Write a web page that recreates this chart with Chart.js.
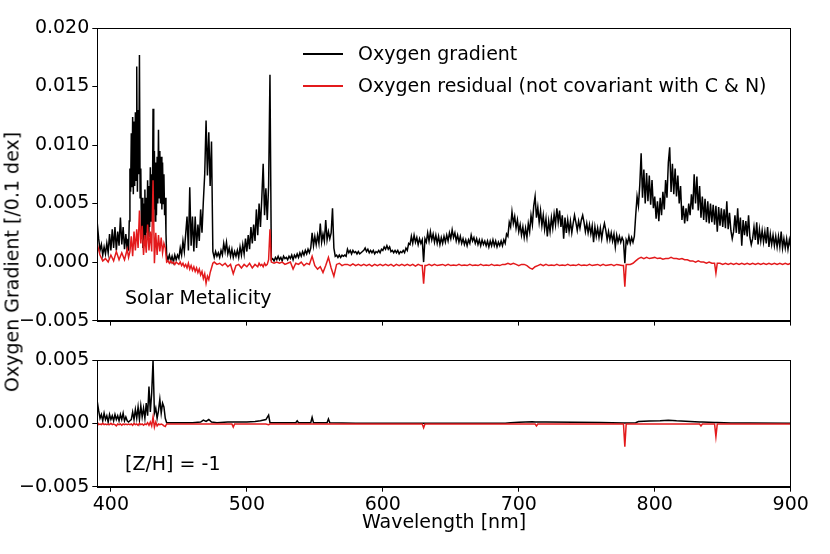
<!DOCTYPE html>
<html><head><meta charset="utf-8">
<script src="https://cdn.jsdelivr.net/npm/chart.js@4.4.1/dist/chart.umd.min.js"></script>
<style>
html,body{margin:0;padding:0;background:#fff;}
#wrap{position:relative;width:830px;height:554px;font-family:"DejaVu Sans",sans-serif;color:#000;overflow:hidden;}
canvas{position:absolute;left:0;}
.t{position:absolute;font-size:19px;line-height:19px;white-space:nowrap;}
.ln{position:absolute;height:2px;}
</style></head><body>
<div id="wrap">
<canvas id="cTop" width="830" height="335" style="top:0px"></canvas>
<canvas id="cBot" width="830" height="214" style="top:340px"></canvas>
<div class="ln" style="left:303px;top:53px;width:40px;background:#000"></div>
<div class="t" style="left:358px;top:44px">Oxygen gradient</div>
<div class="ln" style="left:303px;top:85px;width:40px;background:#e31a1c"></div>
<div class="t" style="left:358px;top:76px">Oxygen residual (not covariant with C &amp; N)</div>
<div class="t" style="left:125px;top:288px">Solar Metalicity</div>
<div class="t" style="left:125px;top:454px">[Z/H] = -1</div>
<div class="t" style="left:444px;top:512px;transform:translateX(-50%)">Wavelength [nm]</div>
<div class="t" style="left:12px;top:262px;transform:translate(-50%,-50%) rotate(-90deg)">Oxygen Gradient [/0.1 dex]</div>
</div>
<script>
// ---- Top panel (solar metallicity): Oxygen gradient ----
const gradWaveTop = [390,391,392,393,394,395,396,397,398,399,400,401,402,403,404,405,406,407,408,409,410,411,412,
 412.5,413,413.5,414,414.5,415,415.5,416,416.5,417,417.5,418,418.5,419,419.5,420,420.5,421,421.5,422,422.5,423,423.5,424,424.5,425,425.5,
 426,426.5,427,427.5,428,428.5,429,429.5,430,430.5,431,431.5,432,432.5,433,433.5,434,434.5,435,435.5,436,436.5,437,437.5,438,438.5,439,439.5,440,440.5,441,
 442,443,444,445,446,447,448,449,
 450,451,452,453,454,455,456,457,458,459,
 460,461,462,463,464,465,466,467,468,469,
 470,471,472,473,474,475,476,477,478,479,
 480,481,482,483,484,485,486,487,488,489,
 490,491,492,493,494,495,496,497,498,499,
 500,501,502,503,504,505,506,507,508,509,
 510,511,512,513,514,515,516,517,518,519,
 520,521,522,523,524,525,526,527,528,529,
 530,531,532,533,534,535,536,537,538,539,
 540,541,542,543,544,545,546,547,548,549,
 550,551,552,553,554,555,556,557,558,559,
 560,561,562,563,564,565,566,567,568,569,
 570,571,572,573,574,575,576,577,578,579,
 580,581,582,583,584,585,586,587,588,589,
 590,591,592,593,594,595,596,597,598,599,
 600,601,602,603,604,605,606,607,608,609,
 610,611,612,613,614,615,616,617,618,619,
 620,621,622,623,624,625,626,627,628,629,
 630,631,632,633,634,635,636,637,638,639,
 640,641,642,643,644,645,646,647,648,649,
 650,651,652,653,654,655,656,657,658,659,
 660,661,662,663,664,665,666,667,668,669,
 670,671,672,673,674,675,676,677,678,679,
 680,681,682,683,684,685,686,687,688,689,
 690,691,692,693,694,695,696,697,698,699,
 700,701,702,703,704,705,706,707,708,709,
 710,711,712,713,714,715,716,717,718,719,
 720,721,722,723,724,725,726,727,728,729,
 730,731,732,733,734,735,736,737,738,739,
 740,741,742,743,744,745,746,747,748,749,
 750,751,752,753,754,755,756,757,758,759,
 760,761,762,763,764,765,766,767,768,769,
 770,771,772,773,774,775,776,777,778,779,
 780,781,782,783,784,785,786,787,788,789,
 790,791,792,793,794,795,796,797,798,799,
 800,801,802,803,804,805,806,807,808,809,
 810,811,812,813,814,815,816,817,818,819,
 820,821,822,823,824,825,826,827,828,829,
 830,831,832,833,834,835,836,837,838,839,
 840,841,842,843,844,845,846,847,848,849,
 850,851,852,853,854,855,856,857,858,859,
 860,861,862,863,864,865,866,867,868,869,
 870,871,872,873,874,875,876,877,878,879,
 880,881,882,883,884,885,886,887,888,889,
 890,891,892,893,894,895,896,897,898,899,
 900];

const gradTop = [3.3e-3,2.0e-3,1.0e-3,1.5e-3,0.6e-3,1.3e-3,0.7e-3,1.6e-3,0.8e-3,2.4e-3,1.0e-3,2.8e-3,1.2e-3,3.0e-3,1.0e-3,2.6e-3,1.4e-3,3.8e-3,1.5e-3,3.0e-3,1.1e-3,2.4e-3,1.0e-3,
 2.0e-3,1.0e-3,3.5e-3,8.0e-3,6.0e-3,11.0e-3,6.4e-3,12.4e-3,5.8e-3,12.0e-3,6.5e-3,12.8e-3,7.0e-3,16.7e-3,6.0e-3,13.0e-3,7.5e-3,17.7e-3,5.5e-3,8.0e-3,2.0e-3,5.5e-3,1.2e-3,5.0e-3,1.9e-3,6.2e-3,1.5e-3,
 5.5e-3,2.5e-3,7.0e-3,2.2e-3,6.5e-3,3.0e-3,8.1e-3,3.5e-3,7.5e-3,4.0e-3,13.1e-3,4.5e-3,9.5e-3,3.5e-3,8.5e-3,4.0e-3,9.0e-3,5.0e-3,11.3e-3,5.5e-3,9.5e-3,5.0e-3,9.0e-3,4.5e-3,8.5e-3,5.0e-3,7.5e-3,4.0e-3,5.5e-3,2.5e-3,0.6e-3,
 0.2e-3,0.6e-3,0.1e-3,0.5e-3,0,0.6e-3,0.2e-3,0.6e-3,
 0.3e-3,1.2e-3,0.6e-3,1.8e-3,0.9e-3,2.4e-3,3.9e-3,1.0e-3,6.4e-3,1.4e-3,
 3.9e-3,0.9e-3,3.9e-3,1.2e-3,3.2e-3,1.8e-3,4.5e-3,2.5e-3,5.2e-3,7.5e-3,
 12.1e-3,7.4e-3,11.1e-3,6.5e-3,10.3e-3,0.9e-3,0.4e-3,0.9e-3,0.5e-3,0.8e-3,
 0.4e-3,1.0e-3,0.6e-3,1.6e-3,0.9e-3,1.7e-3,0.7e-3,1.2e-3,0.5e-3,1.1e-3,
 0.4e-3,0.9e-3,0.5e-3,1.0e-3,0.4e-3,1.3e-3,0.6e-3,1.5e-3,0.7e-3,2.0e-3,
 0.9e-3,2.3e-3,1.1e-3,3.0e-3,1.6e-3,3.2e-3,1.8e-3,4.5e-3,2.3e-3,5.0e-3,
 3.0e-3,5.5e-3,8.4e-3,4.0e-3,6.3e-3,3.6e-3,6.5e-3,16.0e-3,0.2e-3,0.3e-3,
 0.1e-3,0.4e-3,0.2e-3,0.5e-3,0.2e-3,0.4e-3,0.1e-3,0.5e-3,0.3e-3,0.4e-3,
 0.2e-3,0.5e-3,0.3e-3,0.6e-3,0.2e-3,0.6e-3,0.4e-3,0.7e-3,0.4e-3,0.8e-3,
 0.5e-3,0.9e-3,0.6e-3,1.0e-3,0.7e-3,1.1e-3,0.8e-3,1.2e-3,2.5e-3,1.4e-3,
 2.2e-3,1.5e-3,2.3e-3,1.6e-3,3.3e-3,1.7e-3,2.4e-3,1.8e-3,3.6e-3,1.9e-3,
 2.6e-3,2.0e-3,2.5e-3,4.6e-3,1.2e-3,0.5e-3,0.6e-3,0.4e-3,0.6e-3,0.4e-3,
 0.6e-3,0.5e-3,0.6e-3,0.5e-3,1.1e-3,0.8e-3,1.0e-3,0.7e-3,1.0e-3,0.8e-3,
 0.9e-3,0.7e-3,0.9e-3,0.7e-3,0.8e-3,0.9e-3,1.0e-3,1.2e-3,0.9e-3,1.1e-3,
 0.8e-3,1.0e-3,0.8e-3,1.0e-3,0.7e-3,0.9e-3,0.8e-3,1.0e-3,0.8e-3,1.1e-3,
 1.0e-3,1.3e-3,1.1e-3,1.4e-3,1.1e-3,1.3e-3,0.9e-3,1.0e-3,0.8e-3,1.0e-3,
 0.8e-3,1.0e-3,0.7e-3,0.9e-3,0.8e-3,1.0e-3,0.8e-3,1.2e-3,1.0e-3,1.6e-3,
 1.5e-3,2.2e-3,1.6e-3,2.3e-3,1.7e-3,2.1e-3,1.5e-3,2.0e-3,1.6e-3,1.9e-3,
 0,2.0e-3,1.7e-3,2.5e-3,1.8e-3,2.6e-3,1.9e-3,2.4e-3,1.7e-3,2.3e-3,
 1.6e-3,2.2e-3,1.5e-3,2.1e-3,1.6e-3,2.2e-3,1.7e-3,2.3e-3,1.8e-3,2.5e-3,
 2.0e-3,2.75e-3,2.1e-3,2.5e-3,1.8e-3,2.3e-3,1.7e-3,2.2e-3,1.6e-3,2.0e-3,
 1.5e-3,1.9e-3,1.4e-3,1.9e-3,1.6e-3,2.3e-3,1.8e-3,2.1e-3,1.6e-3,2.0e-3,
 1.5e-3,1.9e-3,1.4e-3,1.9e-3,1.5e-3,1.8e-3,1.4e-3,1.8e-3,1.3e-3,1.8e-3,
 1.4e-3,1.9e-3,1.4e-3,1.8e-3,1.3e-3,1.7e-3,1.4e-3,1.8e-3,1.4e-3,1.9e-3,
 1.6e-3,2.4e-3,2.2e-3,3.4e-3,3.0e-3,4.3e-3,3.3e-3,3.9e-3,2.9e-3,3.6e-3,
 2.6e-3,3.2e-3,2.3e-3,3.0e-3,2.1e-3,2.9e-3,2.1e-3,3.3e-3,2.6e-3,4.0e-3,
 3.2e-3,4.8e-3,5.6e-3,3.8e-3,4.7e-3,3.4e-3,4.4e-3,3.1e-3,4.0e-3,2.8e-3,
 3.7e-3,2.2e-3,3.5e-3,2.6e-3,3.8e-3,2.9e-3,4.1e-3,3.2e-3,4.6e-3,3.4e-3,
 4.4e-3,3.0e-3,4.0e-3,2.0e-3,3.8e-3,2.5e-3,3.6e-3,2.6e-3,3.5e-3,2.5e-3,
 3.3e-3,4.0e-3,3.4e-3,2.7e-3,3.5e-3,2.9e-3,3.6e-3,4.0e-3,3.4e-3,2.6e-3,
 3.3e-3,2.5e-3,3.2e-3,2.4e-3,3.1e-3,1.7e-3,3.0e-3,2.2e-3,2.9e-3,2.1e-3,
 2.9e-3,2.0e-3,2.8e-3,3.3e-3,2.7e-3,1.9e-3,2.6e-3,1.9e-3,2.5e-3,1.8e-3,
 2.4e-3,1.3e-3,2.3e-3,1.7e-3,2.2e-3,1.7e-3,2.1e-3,1.8e-3,-0.1e-3,1.9e-3,
 1.6e-3,2.2e-3,1.6e-3,2.1e-3,1.7e-3,2.2e-3,4.0e-3,5.6e-3,4.8e-3,6.6e-3,
 9.3e-3,5.5e-3,7.9e-3,5.0e-3,7.6e-3,5.2e-3,7.4e-3,4.9e-3,7.0e-3,4.6e-3,
 5.6e-3,3.7e-3,5.2e-3,3.5e-3,5.5e-3,4.0e-3,6.0e-3,4.5e-3,7.0e-3,5.5e-3,
 8.5e-3,9.8e-3,6.0e-3,8.4e-3,5.8e-3,8.0e-3,5.6e-3,7.4e-3,5.0e-3,6.5e-3,
 3.6e-3,4.8e-3,3.3e-3,4.6e-3,3.5e-3,5.0e-3,4.0e-3,5.8e-3,4.5e-3,7.5e-3,
 5.0e-3,7.3e-3,4.4e-3,6.5e-3,3.8e-3,5.6e-3,3.6e-3,5.4e-3,3.4e-3,5.2e-3,
 3.3e-3,5.0e-3,3.4e-3,4.9e-3,3.2e-3,4.8e-3,2.6e-3,4.7e-3,3.1e-3,4.6e-3,
 3.0e-3,4.5e-3,2.9e-3,5.2e-3,2.8e-3,4.2e-3,2.7e-3,2.0e-3,2.6e-3,4.0e-3,
 2.5e-3,4.6e-3,2.4e-3,3.8e-3,1.4e-3,3.6e-3,2.3e-3,3.5e-3,2.2e-3,4.0e-3,
 2.1e-3,1.5e-3,2.0e-3,3.0e-3,1.9e-3,3.4e-3,1.5e-3,2.8e-3,1.8e-3,2.7e-3,
 1.7e-3,2.6e-3,1.6e-3,3.0e-3,1.3e-3,2.4e-3,1.5e-3,2.3e-3,1.4e-3,2.2e-3,
 1.3e-3,2.2e-3,1.3e-3,2.6e-3,1.2e-3,2.0e-3,1.2e-3,2.0e-3,1.1e-3,1.9e-3,
 1.3e-3];

// ---- Top panel: Oxygen residual ----
const residWaveTop = [390,392,394,396,398,400,402,404,406,408,410,412,
 413,414,415,416,417,418,419,420,421,422,423,424,425,426,427,428,429,430,431,432,
 433,434,435,436,437,438,439,440,441,442,443,444,445,446,447,448,449,450,451,452,
 453,454,455,456,457,458,459,460,461,462,463,464,465,466,467,468,469,470,471,472,
 473,474,475,476,
 478,480,482,484,486,488,490,492,494,496,498,500,502,504,506,508,
 509,510,511,512,513,514,515,516,517,518,
 520,522,524,526,528,530,532,534,536,538,540,542,544,546,548,550,552,554,556,558,
 560,562,564,566,568,570,572,574,576,578,580,582,584,586,588,590,592,594,596,598,
 600,602,604,606,608,610,612,614,616,618,620,622,624,626,628,629,630,631,632,634,636,638,
 640,642,644,646,648,650,652,654,656,658,660,662,664,666,668,670,672,674,676,678,
 680,682,684,686,688,690,692,694,696,698,700,702,704,706,708,710,712,714,716,718,
 720,722,724,726,728,730,732,734,736,738,740,742,744,746,748,750,752,754,756,758,
 760,762,764,766,768,770,772,774,776,777,778,779,780,782,784,786,788,790,792,794,796,798,
 800,802,804,806,808,810,812,814,816,818,820,822,824,826,828,830,832,834,836,838,
 840,842,844,845,846,848,850,852,854,856,858,860,862,864,866,868,870,872,874,876,878,
 880,882,884,886,888,890,892,894,896,898,900];

const residTop = [1.5e-3,0.6e-3,0.1e-3,0.3e-3,0,0.6e-3,0.1e-3,0.9e-3,0.2e-3,0.8e-3,0.2e-3,1.1e-3,
 0.4e-3,0.9e-3,2.2e-3,0.5e-3,2.6e-3,1.0e-3,2.8e-3,1.2e-3,4.4e-3,1.6e-3,3.1e-3,0.6e-3,2.3e-3,0.8e-3,3.2e-3,1.0e-3,2.6e-3,0.9e-3,7.0e-3,-0.1e-3,
 2.5e-3,0.6e-3,2.3e-3,0.9e-3,2.1e-3,0.8e-3,1.6e-3,1.2e-3,0,0.1e-3,-0.1e-3,0.1e-3,-0.1e-3,0,-0.2e-3,0,-0.1e-3,-0.2e-3,0,-0.3e-3,
 -0.1e-3,-0.4e-3,-0.2e-3,-0.5e-3,-0.1e-3,-0.6e-3,-0.3e-3,-0.7e-3,-0.4e-3,-0.8e-3,-0.5e-3,-0.9e-3,-0.6e-3,-1.1e-3,-0.8e-3,-1.4e-3,-1.0e-3,-1.8e-3,-1.2e-3,-1.5e-3,
 -0.9e-3,-0.5e-3,-0.1e-3,0,
 -0.2e-3,-0.1e-3,-0.3e-3,-0.1e-3,-0.4e-3,-0.2e-3,-1.0e-3,-0.3e-3,-0.2e-3,-0.5e-3,-0.2e-3,-0.4e-3,-0.1e-3,-0.5e-3,-0.2e-3,-0.4e-3,
 -0.1e-3,-0.3e-3,-0.2e-3,-0.4e-3,-0.1e-3,-0.3e-3,-0.2e-3,0.2e-3,2.8e-3,0,
 -0.1e-3,0,-0.1e-3,0,-0.2e-3,-0.1e-3,0,-0.6e-3,-0.1e-3,-0.2e-3,0,-0.3e-3,-0.1e-3,-0.2e-3,0.5e-3,-0.3e-3,-0.6e-3,-0.4e-3,-0.9e-3,-0.3e-3,
 0.4e-3,-0.5e-3,-1.2e-3,-0.2e-3,-0.1e-3,-0.3e-3,-0.2e-3,-0.2e-3,-0.3e-3,-0.15e-3,-0.3e-3,-0.2e-3,-0.3e-3,-0.2e-3,-0.3e-3,-0.2e-3,-0.35e-3,-0.2e-3,-0.3e-3,-0.2e-3,
 -0.3e-3,-0.2e-3,-0.3e-3,-0.2e-3,-0.35e-3,-0.2e-3,-0.3e-3,-0.2e-3,-0.3e-3,-0.2e-3,-0.3e-3,-0.2e-3,-0.35e-3,-0.2e-3,-0.3e-3,-0.3e-3,-1.85e-3,-0.3e-3,-0.3e-3,-0.2e-3,-0.3e-3,-0.2e-3,
 -0.3e-3,-0.25e-3,-0.2e-3,-0.3e-3,-0.2e-3,-0.3e-3,-0.25e-3,-0.3e-3,-0.2e-3,-0.3e-3,-0.25e-3,-0.3e-3,-0.2e-3,-0.3e-3,-0.25e-3,-0.3e-3,-0.2e-3,-0.3e-3,-0.25e-3,-0.3e-3,
 -0.2e-3,-0.3e-3,-0.25e-3,-0.3e-3,-0.2e-3,-0.2e-3,-0.1e-3,-0.2e-3,-0.1e-3,-0.2e-3,-0.3e-3,-0.2e-3,-0.2e-3,-0.3e-3,-0.5e-3,-0.6e-3,-0.4e-3,-0.3e-3,-0.2e-3,-0.3e-3,
 -0.2e-3,-0.3e-3,-0.25e-3,-0.3e-3,-0.2e-3,-0.3e-3,-0.25e-3,-0.3e-3,-0.2e-3,-0.3e-3,-0.25e-3,-0.3e-3,-0.2e-3,-0.3e-3,-0.25e-3,-0.3e-3,-0.2e-3,-0.3e-3,-0.25e-3,-0.2e-3,
 -0.3e-3,-0.2e-3,-0.3e-3,-0.25e-3,-0.2e-3,-0.3e-3,-0.2e-3,-0.25e-3,-0.3e-3,-0.3e-3,-2.1e-3,-0.2e-3,-0.2e-3,-0.2e-3,-0.1e-3,0.1e-3,0.3e-3,0.4e-3,0.3e-3,0.4e-3,0.3e-3,0.35e-3,
 0.4e-3,0.3e-3,0.35e-3,0.25e-3,0.3e-3,0.3e-3,0.4e-3,0.3e-3,0.3e-3,0.25e-3,0.3e-3,0.2e-3,0.2e-3,0.1e-3,0.1e-3,0,0.1e-3,0,0,-0.1e-3,
 0,-0.1e-3,-0.1e-3,-0.95e-3,-0.1e-3,-0.1e-3,-0.2e-3,-0.1e-3,-0.2e-3,-0.1e-3,-0.2e-3,-0.1e-3,-0.2e-3,-0.1e-3,-0.2e-3,-0.1e-3,-0.2e-3,-0.1e-3,-0.2e-3,-0.1e-3,-0.2e-3,
 -0.1e-3,-0.2e-3,-0.1e-3,-0.2e-3,-0.1e-3,-0.2e-3,-0.1e-3,-0.2e-3,-0.1e-3,-0.2e-3,-0.1e-3];

// ---- Bottom panel ([Z/H] = -1) ----
const botWave = [390,391,392,393,394,395,396,397,398,399,400,401,402,403,404,405,406,407,408,409,
 410,411,412,413,414,415,416,417,418,419,420,421,422,423,424,425,426,427,428,429,
 430,431,432,433,434,435,436,437,438,439,440,441,442,
 446,450,456,460,466,468,470,472,474,478,486,489,490,491,494,500,506,510,514,516,517,520,
 530,536,537,538,547,548,549,559,560,561,570,580,600,620,629,630,631,650,670,690,
 694,700,710,712,713,714,720,740,760,777,778,779,786,788,796,804,810,816,826,833,834,835,844,845,846,856,870,900];

const gradBot = [1.7e-3,1.0e-3,0.4e-3,0.7e-3,0.2e-3,0.8e-3,0.3e-3,0.6e-3,0.1e-3,0.7e-3,0.3e-3,0.6e-3,0.2e-3,0.7e-3,0.3e-3,0.6e-3,0.2e-3,0.7e-3,0.3e-3,0.8e-3,
 0.2e-3,0.5e-3,0.2e-3,0.1e-3,0.2e-3,0.3e-3,0.9e-3,0.3e-3,1.1e-3,0.4e-3,1.3e-3,0.3e-3,1.4e-3,0.5e-3,1.2e-3,0.4e-3,1.6e-3,0.6e-3,2.9e-3,0.9e-3,
 2.4e-3,5.0e-3,0.8e-3,1.2e-3,0.4e-3,1.0e-3,1.9e-3,0.8e-3,1.6e-3,1.3e-3,0.4e-3,0.05e-3,0.05e-3,
 0.05e-3,0.05e-3,0.05e-3,0.05e-3,0.1e-3,0.25e-3,0.15e-3,0.3e-3,0.1e-3,0.05e-3,0.1e-3,0.1e-3,0.1e-3,0.1e-3,0.1e-3,0.1e-3,0.15e-3,0.2e-3,0.3e-3,0.65e-3,0.05e-3,0.05e-3,
 0.05e-3,0.05e-3,0.2e-3,0.05e-3,0.05e-3,0.47e-3,0.05e-3,0.05e-3,0.35e-3,0.05e-3,0.02e-3,0,0,0,0,0,0,0,0,0,
 0.05e-3,0.08e-3,0.12e-3,0.1e-3,0.1e-3,0.1e-3,0.1e-3,0.08e-3,0.06e-3,0.03e-3,0.03e-3,0.03e-3,0.05e-3,0.15e-3,0.18e-3,0.2e-3,0.25e-3,0.2e-3,0.15e-3,0.1e-3,0.1e-3,0.1e-3,0.07e-3,0.07e-3,0.07e-3,0.03e-3,0.02e-3,0];

const residBot = [0.1e-3,-0.1e-3,-0.05e-3,-0.1e-3,0,-0.1e-3,-0.05e-3,-0.1e-3,-0.05e-3,-0.1e-3,0,-0.1e-3,-0.05e-3,-0.1e-3,-0.2e-3,-0.05e-3,-0.1e-3,-0.05e-3,-0.15e-3,-0.05e-3,
 -0.1e-3,-0.05e-3,-0.1e-3,-0.05e-3,-0.1e-3,-0.05e-3,-0.15e-3,0,-0.1e-3,-0.05e-3,-0.15e-3,0,-0.1e-3,-0.05e-3,-0.15e-3,-0.05e-3,-0.1e-3,0.05e-3,-0.15e-3,0.1e-3,
 -0.2e-3,0.5e-3,-0.3e-3,0.1e-3,-0.2e-3,-0.05e-3,-0.1e-3,-0.05e-3,-0.1e-3,-0.2e-3,-0.25e-3,-0.05e-3,-0.05e-3,
 -0.05e-3,-0.05e-3,-0.05e-3,-0.05e-3,-0.05e-3,-0.05e-3,-0.05e-3,-0.05e-3,-0.05e-3,-0.05e-3,-0.05e-3,-0.05e-3,-0.3e-3,-0.05e-3,-0.05e-3,-0.05e-3,-0.05e-3,-0.05e-3,-0.05e-3,-0.1e-3,-0.05e-3,-0.05e-3,
 -0.05e-3,-0.05e-3,-0.05e-3,-0.05e-3,-0.05e-3,-0.05e-3,-0.05e-3,-0.05e-3,-0.05e-3,-0.05e-3,-0.05e-3,-0.05e-3,-0.05e-3,-0.05e-3,-0.05e-3,-0.35e-3,-0.05e-3,-0.05e-3,-0.05e-3,-0.05e-3,
 -0.05e-3,-0.05e-3,-0.05e-3,-0.05e-3,-0.2e-3,-0.05e-3,-0.05e-3,-0.05e-3,-0.05e-3,-0.05e-3,-1.85e-3,-0.05e-3,-0.05e-3,-0.05e-3,-0.05e-3,-0.05e-3,-0.05e-3,-0.05e-3,-0.05e-3,-0.05e-3,-0.2e-3,-0.05e-3,-0.05e-3,-1.05e-3,-0.05e-3,-0.05e-3,-0.05e-3,-0.05e-3];

const xTicks = [400,500,600,700,800,900];
const yTicksTop = [-0.005,0,0.005,0.010,0.015,0.020];
const yTicksBot = [-0.005,0,0.005];

const BLACK = '#000000', RED = '#e31a1c';
const FONT = {family:'DejaVu Sans', size:19};

function pts(w, v){ return w.map((x,i)=>({x:x, y:v[i]})); }
function fmtY(v){ if (Math.abs(v) < 1e-9) return '0.000'; return v.toFixed(3).replace('-', '\u2212'); }

const frame = {id:'frame', afterDraw(c){ const {ctx, chartArea:a} = c; ctx.save(); ctx.strokeStyle='#000'; ctx.lineWidth=1; ctx.strokeRect(Math.round(a.left)+0.5, Math.round(a.top)+0.5, Math.round(a.right-a.left), Math.round(a.bottom-a.top)); ctx.restore(); }};

function makeChart(id, gWave, grad, rWave, resid, yMin, yMax, yTicks, showX, padTop, xH){
  return new Chart(document.getElementById(id), {
    type:'line',
    data:{ datasets:[
      {data:pts(rWave, resid), borderColor:RED, borderWidth:1.5, pointRadius:0, tension:0, fill:false},
      {data:pts(gWave, grad), borderColor:BLACK, borderWidth:1.5, pointRadius:0, tension:0, fill:false}
    ]},
    options:{
      responsive:false, animation:false, parsing:false, normalized:true,
      layout:{padding:{left:0, right:39.3, top:padTop, bottom:0}},
      plugins:{legend:{display:false}, tooltip:{enabled:false}},
      scales:{
        x:{type:'linear', min:390, max:900,
           afterBuildTicks(s){ s.ticks = xTicks.map(v=>({value:v})); },
           afterFit(s){ s.height = xH; },
           grid:{drawOnChartArea:false, drawTicks:true, tickLength:5, color:'#000', lineWidth:1},
           border:{display:true, color:'#000', width:1},
           ticks:{font:FONT, color:'#000', padding:2, maxRotation:0, autoSkip:false,
                  callback:(v)=> showX ? String(v) : ''}},
        y:{type:'linear', min:yMin, max:yMax,
           afterBuildTicks(s){ s.ticks = yTicks.map(v=>({value:v})); },
           afterFit(s){ s.width = 97.3; },
           grid:{drawOnChartArea:false, drawTicks:true, tickLength:5, color:'#000', lineWidth:1},
           border:{display:true, color:'#000', width:1},
           ticks:{font:FONT, color:'#000', padding:3, autoSkip:false, callback:(v)=>fmtY(v)}}
      }
    },
    plugins:[frame]
  });
}

makeChart('cTop', gradWaveTop, gradTop, residWaveTop, residTop, -0.005, 0.020, yTicksTop, false, 28, 14);
makeChart('cBot', botWave, gradBot, botWave, residBot, -0.005, 0.005, yTicksBot, true, 20, 67.3);
</script>
</body></html>
